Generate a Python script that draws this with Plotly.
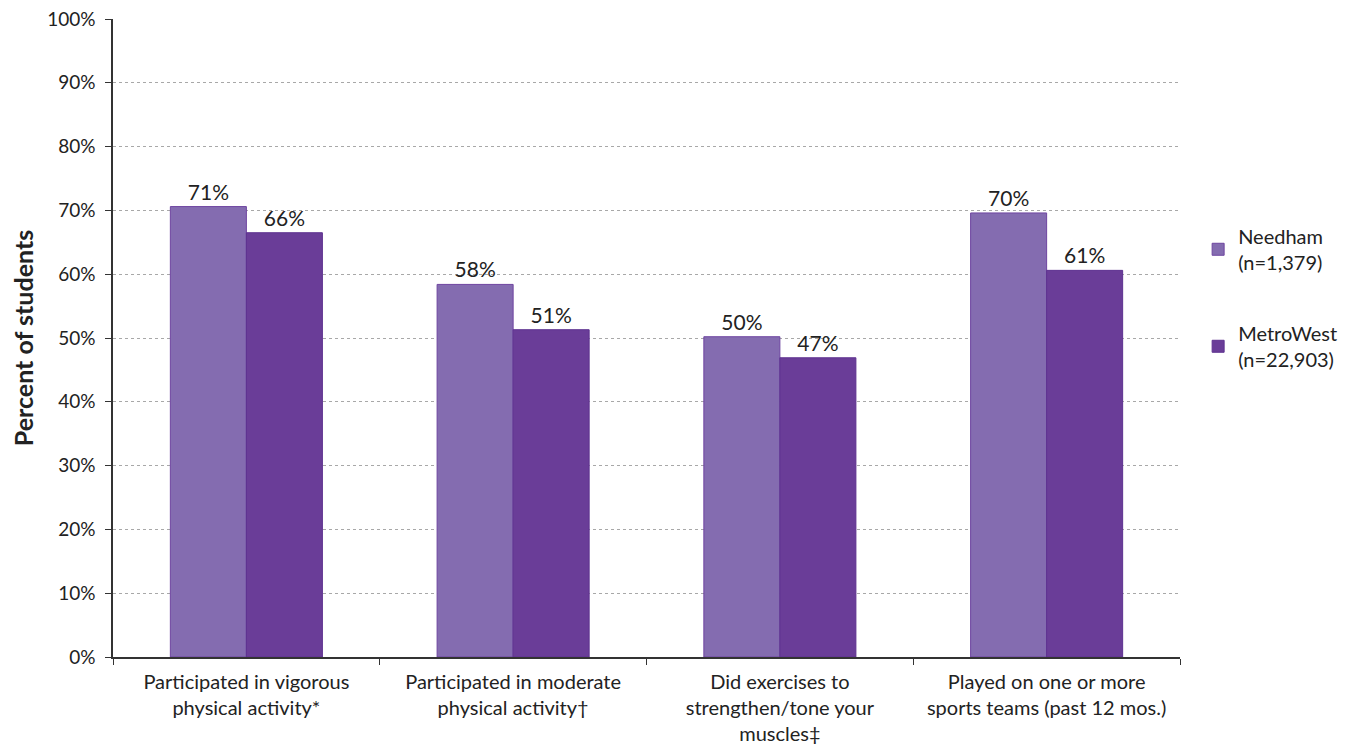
import plotly.graph_objects as go

categories = ["Participated in vigorous<br>physical activity*",
              "Participated in moderate<br>physical activity†",
              "Did exercises to<br>strengthen/tone your<br>muscles‡",
              "Played on one or more<br>sports teams (past 12 mos.)"]
needham = [70.6, 58.4, 50.2, 69.6]
metrowest = [66.5, 51.3, 46.9, 60.6]
needham_labels = ["71%", "58%", "50%", "70%"]
metrowest_labels = ["66%", "51%", "47%", "61%"]

FONT = "Lato, Open Sans, sans-serif"
fig = go.Figure()
fig.add_trace(go.Bar(x=categories, y=needham, name="Needham<br>(n=1,379)",
                     text=needham_labels, textposition="outside",
                     marker=dict(color="#846CB0", line=dict(color="#6E45A0", width=1)),
                     legendgroup="a", cliponaxis=False))
fig.add_trace(go.Bar(x=categories, y=metrowest, name="MetroWest<br>(n=22,903)",
                     text=metrowest_labels, textposition="outside",
                     marker=dict(color="#6A3D98", line=dict(color="#5E3290", width=1)),
                     legendgroup="b", cliponaxis=False))

fig.update_traces(textfont=dict(size=21, color="#222222", family=FONT))
fig.update_layout(
    width=1342, height=743,
    margin=dict(l=105, r=170, t=11, b=94, autoexpand=False),
    plot_bgcolor="white", paper_bgcolor="white",
    barmode="group", bargap=0.43, bargroupgap=0,
    font=dict(family=FONT, size=19, color="#222222"),
    legend=dict(x=1.017, y=0.69, xanchor="left", yanchor="top",
                font=dict(size=20), tracegroupgap=42, traceorder="grouped"),
    xaxis=dict(tickson="boundaries", ticks="outside", ticklen=6, tickcolor="#333",
               showline=True, linecolor="#333", linewidth=1.5, tickfont=dict(size=20),
               automargin=False, ticklabelstandoff=6),
    yaxis=dict(range=[0, 100], dtick=10, ticksuffix="%", ticks="outside", ticklen=6,
               tickcolor="#333", showline=True, linecolor="#333", linewidth=1.5,
               showgrid=True, gridcolor="#A8A8A8", griddash="dot", gridwidth=1,
               title=dict(text="<b>Percent of students</b>", font=dict(size=25), standoff=20),
               tickfont=dict(size=19), zeroline=False, ticklabeloverflow="allow",
               automargin=False, ticklabelstandoff=6),
)
fig.write_html("out.html")
